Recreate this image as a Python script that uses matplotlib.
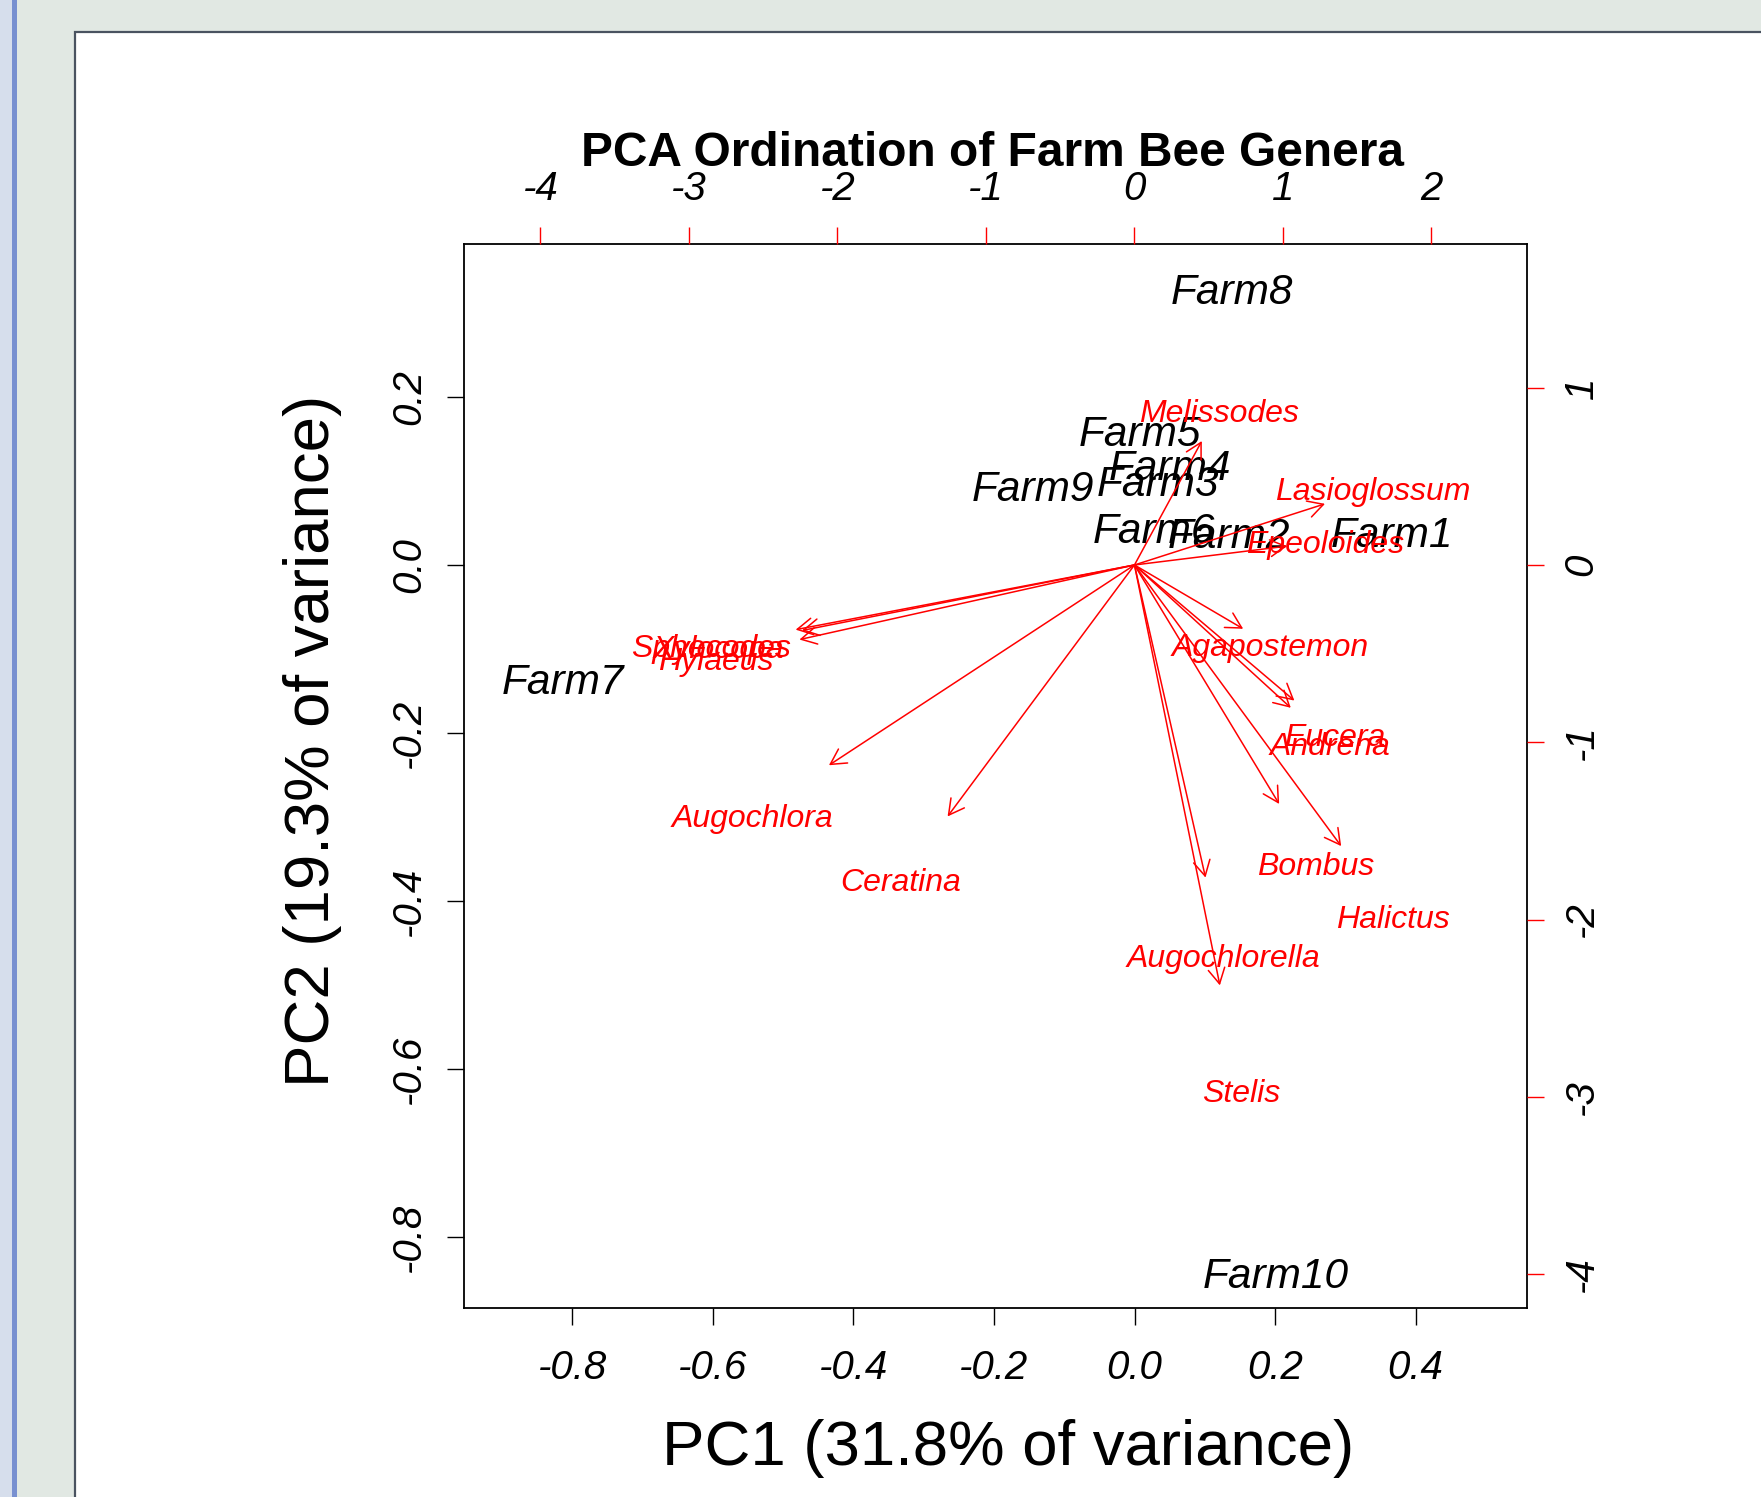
import matplotlib
matplotlib.use("Agg")
from matplotlib import pyplot as plt
from matplotlib.patches import Rectangle

plt.rcParams['font.family'] = ['Liberation Sans', 'DejaVu Sans']
plt.rcParams['font.style'] = 'italic'
plt.rcParams['axes.unicode_minus'] = False

# sample scores (PC1, PC2) - bottom/left axes
farms = ['Farm1', 'Farm2', 'Farm3', 'Farm4', 'Farm5', 'Farm6', 'Farm7', 'Farm8', 'Farm9', 'Farm10']
farm_pc1 = [0.367, 0.134, 0.034, 0.050, 0.008, 0.027, -0.814, 0.139, -0.145, 0.201]
farm_pc2 = [0.040, 0.038, 0.100, 0.119, 0.160, 0.045, -0.135, 0.329, 0.094, -0.842]

# genus loadings - top/right axes
genera = ['Melissodes', 'Lasioglossum', 'Epeoloides', 'Agapostemon', 'Eucera', 'Andrena',
          'Bombus', 'Halictus', 'Augochlorella', 'Stelis', 'Augochlora', 'Ceratina',
          'Sphecodes', 'Xylocopa', 'Hylaeus']
gen_pc1 = [0.567, 1.604, 1.286, 0.915, 1.346, 1.316, 1.218, 1.740, 0.598, 0.719,
           -2.572, -1.573, -2.852, -2.799, -2.820]
gen_pc2 = [0.874, 0.431, 0.133, -0.450, -0.956, -1.007, -1.685, -1.982, -2.204, -2.964,
           -1.412, -1.773, -0.456, -0.462, -0.526]

x_ticks = [-0.8, -0.6, -0.4, -0.2, 0.0, 0.2, 0.4]
y_ticks = [-0.8, -0.6, -0.4, -0.2, 0.0, 0.2]
top_ticks = [-4, -3, -2, -1, 0, 1, 2]
right_ticks = [-4, -3, -2, -1, 0, 1]

fig = plt.figure(figsize=(17.61, 14.97), dpi=100)
fig.patch.set_facecolor('#e1e8e3')

# screenshot frame bits (behind the axes)
fig.patches.append(Rectangle((0, 0), 11.7 / 1761, 1, transform=fig.transFigure,
                             facecolor='#d6deec', edgecolor='none', zorder=-5))
fig.patches.append(Rectangle((11.7 / 1761, 0), 5 / 1761, 1, transform=fig.transFigure,
                             facecolor='#7890d0', edgecolor='none', zorder=-5))
fig.patches.append(Rectangle((75 / 1761, -0.01), 1.0, 1 - 31.5 / 1497 + 0.01,
                             transform=fig.transFigure, facecolor='white',
                             edgecolor='#4a5360', lw=1.6, zorder=-5))

pos = [464 / 1761, 1 - 1308.4 / 1497, 1062.5 / 1761, 1064.7 / 1497]
ax = fig.add_axes(pos)
ax.set_xlim(-0.9543, 0.5579)
ax.set_ylim(-0.8851, 0.3824)
ax.set_xticks(x_ticks)
ax.set_xticklabels(['%.1f' % v for v in x_ticks])
ax.set_yticks(y_ticks)
ax.set_yticklabels(['%.1f' % v for v in y_ticks])
ax.tick_params(direction='out', length=12, width=1, labelsize=29, pad=12)
ax.tick_params(axis='x', pad=17)
ax.tick_params(axis='y', labelrotation=90, pad=14)
for lab in ax.get_yticklabels():
    lab.set_va('center')
for s in ax.spines.values():
    s.set_linewidth(1.3)

for name, x, y in zip(farms, farm_pc1, farm_pc2):
    ax.text(x, y, name, ha='center', va='center_baseline', fontsize=30.5, color='black')

ax2 = fig.add_axes(pos, frameon=False)
ax2.set_xlim(-4.515, 2.640)
ax2.set_ylim(-4.193, 1.812)
ax2.xaxis.tick_top()
ax2.yaxis.tick_right()
ax2.set_xticks(top_ticks)
ax2.set_xticklabels([str(v) for v in top_ticks])
ax2.set_yticks(right_ticks)
ax2.set_yticklabels([str(v) for v in right_ticks])
ax2.tick_params(direction='out', length=12, width=1, labelsize=29, pad=14,
                colors='red', labelcolor='black')
ax2.tick_params(axis='y', labelrotation=90)
for lab in ax2.get_yticklabels():
    lab.set_va('center')

for name, x, y in zip(genera, gen_pc1, gen_pc2):
    ax2.annotate('', xy=(0.8 * x, 0.8 * y), xytext=(0, 0),
                 arrowprops=dict(arrowstyle='->,head_length=0.55,head_width=0.3',
                                 color='red', lw=1.1, shrinkA=0, shrinkB=0,
                                 mutation_scale=20))
for name, x, y in zip(genera, gen_pc1, gen_pc2):
    ax2.text(x, y, name, ha='center', va='center_baseline', fontsize=23, color='red')

fig.text(992.3 / 1761, 1 - 153 / 1497, 'PCA Ordination of Farm Bee Genera',
         ha='center', va='center', fontsize=34.5, fontweight='bold', fontstyle='normal')
fig.text(1008.6 / 1761, 1 - 1449 / 1497, 'PC1 (31.8% of variance)',
         ha='center', va='center', fontsize=45.7, fontstyle='normal')
fig.text(312 / 1761, 1 - 741 / 1497, 'PC2 (19.3% of variance)',
         ha='center', va='center', fontsize=45.7, fontstyle='normal', rotation=90)

fig.savefig('out.png', dpi=100, facecolor=fig.get_facecolor())
